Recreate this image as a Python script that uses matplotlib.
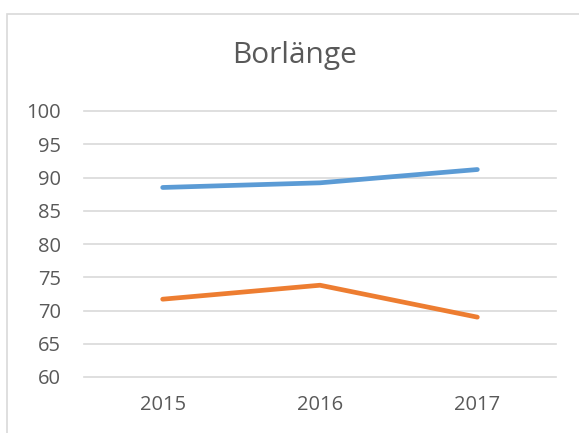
import matplotlib
matplotlib.use("Agg")
import matplotlib.pyplot as plt
from matplotlib.patches import Rectangle

plt.rcParams['font.family'] = ['Open Sans', 'DejaVu Sans']

years = ["2015", "2016", "2017"]
series_blue = [88.5, 89.2, 91.2]
series_orange = [71.7, 73.8, 69.0]
yticks = [60, 65, 70, 75, 80, 85, 90, 95, 100]

W, H = 579, 433
fig = plt.figure(figsize=(W / 100, H / 100), dpi=100)
fig.patch.set_facecolor("white")

# chart border
fig.add_artist(Rectangle((7 / W, -0.1), 1.2, 1 - 14 / H + 0.1, transform=fig.transFigure,
                         fill=False, edgecolor="#D9D9D9", lw=1.2))

ax = fig.add_axes([84 / W, 1 - 377 / H, (556 - 84) / W, (377 - 111) / H])
x = list(range(len(years)))
ax.plot(x, series_blue, color="#5B9BD5", lw=3.4, solid_capstyle="round", solid_joinstyle="round", zorder=3)
ax.plot(x, series_orange, color="#ED7D31", lw=3.4, solid_capstyle="round", solid_joinstyle="round", zorder=3)

ax.set_xlim(-0.5, len(years) - 0.5)
ax.set_ylim(60, 100)
ax.set_yticks(yticks)
ax.set_xticks(x)
ax.set_xticklabels(years)
for s in ax.spines.values():
    s.set_visible(False)
ax.tick_params(axis="both", length=0, colors="#595959", labelsize=14.5)
ax.tick_params(axis="y", pad=16.5)
ax.tick_params(axis="x", pad=13)
ax.grid(axis="y", color="#D9D9D9", lw=1.2)
ax.set_axisbelow(True)
for l in ax.get_ygridlines():
    l.set_clip_on(False)

fig.text(0.508, 1 - 56 / H, "Borlänge", ha="center", va="center", fontsize=21.5, color="#595959")

fig.savefig("out.png", dpi=100)
